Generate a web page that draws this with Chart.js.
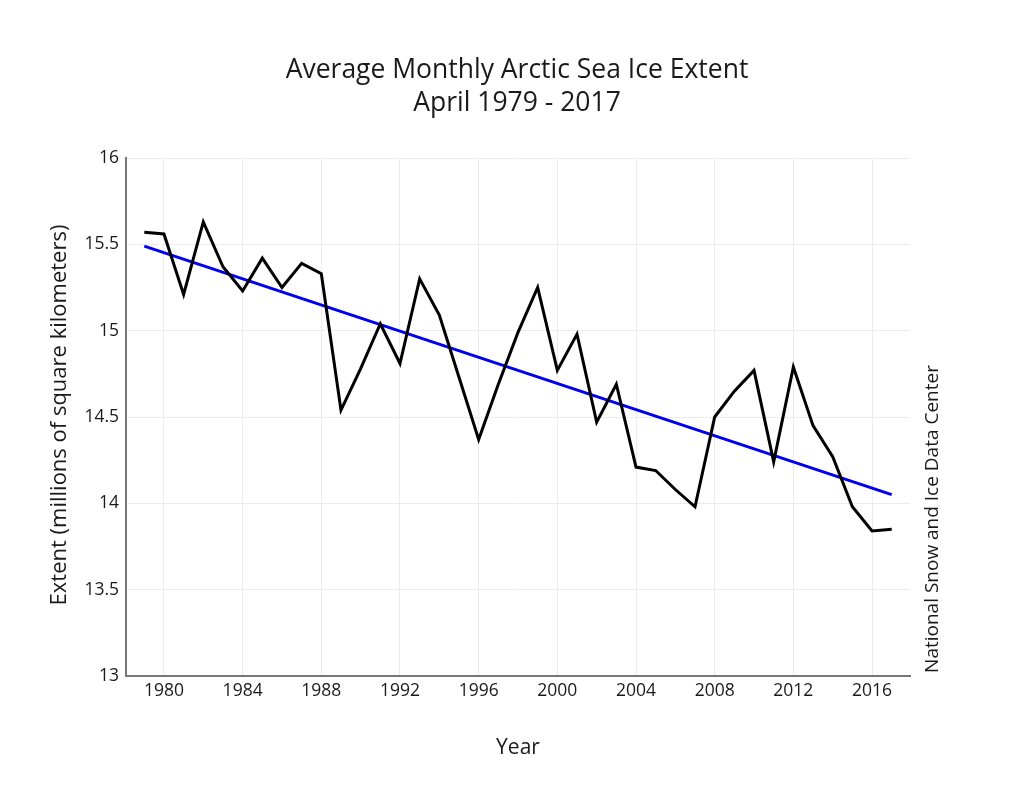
<!DOCTYPE html>
<html>
<head>
<meta charset="utf-8">
<script src="https://cdn.jsdelivr.net/npm/chart.js@4.4.1/dist/chart.umd.min.js"></script>
<style>
  html, body { margin: 0; padding: 0; background: #fff; }
  #wrap { width: 1035px; height: 800px; position: relative; }
</style>
</head>
<body>
<div id="wrap"><canvas id="c" width="1035" height="800"></canvas></div>
<script>
const titleLines = ["Average Monthly Arctic Sea Ice Extent", "April 1979 - 2017"];
const xTitle = "Year";
const yTitle = "Extent (millions of square kilometers)";
const sourceText = "National Snow and Ice Data Center";

const years = [1979,1980,1981,1982,1983,1984,1985,1986,1987,1988,1989,1990,1991,1992,1993,1994,1995,1996,1997,1998,1999,2000,2001,2002,2003,2004,2005,2006,2007,2008,2009,2010,2011,2012,2013,2014,2015,2016,2017];
const extent = [15.57,15.56,15.21,15.63,15.37,15.23,15.42,15.25,15.39,15.33,14.54,14.78,15.04,14.81,15.30,15.09,14.73,14.37,14.69,14.99,15.25,14.77,14.98,14.47,14.69,14.21,14.19,14.08,13.98,14.50,14.65,14.77,14.24,14.79,14.45,14.27,13.98,13.84,13.85];

const trendYears = [1979, 2017];
const trendValues = [15.49, 14.05];

const xTicks = [1980,1984,1988,1992,1996,2000,2004,2008,2012,2016];
const yTicks = [13,13.5,14,14.5,15,15.5,16];

const FONT = "'Open Sans', 'Noto Sans', sans-serif";

const textPlugin = {
  id: 'extraText',
  afterDraw(chart) {
    const ctx = chart.ctx;
    const a = chart.chartArea;
    ctx.save();
    ctx.fillStyle = '#1a1a1a';
    ctx.textAlign = 'center';
    ctx.textBaseline = 'middle';
    ctx.font = "26.5px " + FONT;
    ctx.fillText(titleLines[0], 517, 70);
    ctx.fillText(titleLines[1], 517, 103);
    ctx.font = "21px " + FONT;
    ctx.fillText(xTitle, (a.left + a.right) / 2, 748);
    ctx.font = "22px " + FONT;
    ctx.save();
    ctx.translate(60, 415);
    ctx.rotate(-Math.PI / 2);
    ctx.fillText(yTitle, 0, 0);
    ctx.restore();
    ctx.font = "19px " + FONT;
    ctx.save();
    ctx.translate(933, 519);
    ctx.rotate(-Math.PI / 2);
    ctx.fillText(sourceText, 0, 0);
    ctx.restore();
    ctx.restore();
  }
};

new Chart(document.getElementById('c'), {
  type: 'line',
  data: {
    datasets: [
      {
        label: 'Extent',
        data: years.map((y, i) => ({ x: y, y: extent[i] })),
        borderColor: '#000',
        borderWidth: 3,
        pointRadius: 0,
        tension: 0,
        fill: false
      },
      {
        label: 'Trend',
        data: trendYears.map((y, i) => ({ x: y, y: trendValues[i] })),
        borderColor: '#0000f0',
        borderWidth: 3,
        pointRadius: 0,
        tension: 0,
        fill: false
      }
    ]
  },
  plugins: [textPlugin],
  options: {
    responsive: false,
    animation: false,
    layout: { padding: { top: 158, right: 125, left: 0, bottom: 0 } },
    plugins: { legend: { display: false }, tooltip: { enabled: false }, title: { display: false } },
    scales: {
      x: {
        type: 'linear',
        min: 1978.07,
        max: 2017.93,
        afterBuildTicks: s => { s.ticks = xTicks.map(v => ({ value: v })); },
        afterFit: s => { s.height = 124; },
        ticks: { color: '#1a1a1a', font: { family: FONT, size: 17.5 }, padding: 5, maxRotation: 0, callback: v => String(v) },
        grid: { color: '#ececec', lineWidth: 1, drawTicks: false },
        border: { color: '#777', width: 2 }
      },
      y: {
        min: 13,
        max: 16,
        afterBuildTicks: s => { s.ticks = yTicks.map(v => ({ value: v })); },
        afterFit: s => { s.width = 126; },
        ticks: { color: '#1a1a1a', font: { family: FONT, size: 17.5 }, padding: 7, callback: v => String(v) },
        grid: { color: '#ececec', lineWidth: 1, drawTicks: false },
        border: { color: '#777', width: 2 }
      }
    }
  }
});
</script>
</body>
</html>
